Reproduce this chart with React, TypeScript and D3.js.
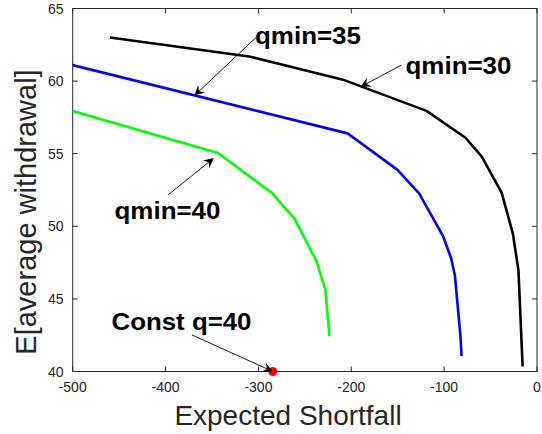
import React from "react";
import * as d3 from "d3";

const xTicks = [-500, -400, -300, -200, -100, 0];
const yTicks = [40, 45, 50, 55, 60, 65];

const qmin30: [number, number][] = [
  [-460, 63.0], [-310, 61.7], [-209, 60.1], [-119, 57.95], [-77, 56.1],
  [-59.5, 54.8], [-38, 52.3], [-26, 49.5], [-20, 47.0], [-15.5, 40.35],
];
const qmin35: [number, number][] = [
  [-500, 61.1], [-204, 56.4], [-150.5, 53.9], [-127, 52.27], [-101, 49.3],
  [-92.5, 47.8], [-88.5, 46.65], [-82.5, 42.5], [-81.2, 41.07],
];
const qmin40: [number, number][] = [
  [-500, 57.94], [-343.5, 55.05], [-285.5, 52.3], [-261.3, 50.55],
  [-237.5, 47.6], [-228, 45.66], [-223.5, 42.44],
];
const constPoint: [number, number] = [-284.5, 40];

const seriesList = [
  { name: "qmin=30", data: qmin30, color: "#000000" },
  { name: "qmin=35", data: qmin35, color: "#0000ff" },
  { name: "qmin=40", data: qmin40, color: "#00ff00" },
];

// annotation layout (text pixel position, arrow tail pixel, arrow head in data units)
const annotations = [
  { text: "qmin=35", tx: 255, ty: 43.5, len: 106, tail: [256, 37.5], head: [-369, 59.0] },
  { text: "qmin=30", tx: 405.5, ty: 74, len: 106, tail: [401.5, 65], head: [-190, 59.6] },
  { text: "qmin=40", tx: 114.5, ty: 219, len: 106, tail: [168, 195], head: [-348, 54.7] },
  { text: "Const q=40", tx: 111.5, ty: 330, len: 140, tail: [192, 335], head: [-284.5, 40] },
];

const W = 542;
const H = 434;
const left = 72.7;
const right = 537;
const top = 8.5;
const bottom = 371.5;
const axisColor = "#262626";

function Arrow({ x1, y1, x2, y2 }: { x1: number; y1: number; x2: number; y2: number }) {
  const dx = x2 - x1;
  const dy = y2 - y1;
  const L = Math.hypot(dx, dy);
  const ux = dx / L;
  const uy = dy / L;
  const px = -uy;
  const py = ux;
  const hl = 10;
  const hw = 5;
  const notch = 6.5;
  const bx = x2 - ux * hl;
  const by = y2 - uy * hl;
  const nx = x2 - ux * notch;
  const ny = y2 - uy * notch;
  const pts = [
    [x2, y2],
    [bx + px * hw, by + py * hw],
    [nx, ny],
    [bx - px * hw, by - py * hw],
  ];
  return (
    <g>
      <line x1={x1} y1={y1} x2={nx} y2={ny} stroke="#000" strokeWidth={0.9} />
      <polygon points={pts.map((p) => p.join(",")).join(" ")} fill="#000" />
    </g>
  );
}

export default function App() {
  const x = d3.scaleLinear().domain([-500, 0]).range([left, right]);
  const y = d3.scaleLinear().domain([40, 65]).range([bottom, top]);
  const line = d3
    .line<[number, number]>()
    .x((d) => x(d[0]))
    .y((d) => y(d[1]));
  const tickLen = 5;
  const font = "'Liberation Sans', Arial, Helvetica, sans-serif";

  return (
    <svg
      width={W}
      height={H}
      style={{ position: "absolute", left: 0, top: 0, background: "#fff" }}
      fontFamily={font}
    >
      <rect x={0} y={0} width={W} height={H} fill="#fff" />
      {/* box */}
      <rect
        x={left}
        y={top}
        width={right - left}
        height={bottom - top}
        fill="none"
        stroke={axisColor}
        strokeWidth={1}
      />
      {xTicks.map((t) => (
        <g key={"x" + t}>
          <line x1={x(t)} x2={x(t)} y1={bottom} y2={bottom - tickLen} stroke={axisColor} />
          <line x1={x(t)} x2={x(t)} y1={top} y2={top + tickLen} stroke={axisColor} />
          <text x={x(t)} y={392} textAnchor="middle" fontSize={14} fill={axisColor}>
            {t}
          </text>
        </g>
      ))}
      {yTicks.map((t) => (
        <g key={"y" + t}>
          <line x1={left} x2={left + tickLen} y1={y(t)} y2={y(t)} stroke={axisColor} />
          <line x1={right} x2={right - tickLen} y1={y(t)} y2={y(t)} stroke={axisColor} />
          <text
            x={63.5}
            y={y(t) + 5}
            textAnchor="end"
            fontSize={14}
            fill={axisColor}
          >
            {t}
          </text>
        </g>
      ))}
      <text x={288} y={425} textAnchor="middle" fontSize={28} fill={axisColor}>
        Expected Shortfall
      </text>
      <text
        transform={`translate(36,212) rotate(-90)`}
        textAnchor="middle"
        fontSize={29}
        fill={axisColor}
      >
        E[average withdrawal]
      </text>

      {seriesList.map((s) => (
        <path
          key={s.name}
          d={line(s.data) || ""}
          fill="none"
          stroke={s.color}
          strokeWidth={2.6}
          strokeLinejoin="round"
        />
      ))}

      <circle cx={x(constPoint[0])} cy={y(constPoint[1])} r={4.5} fill="#ff0000" />

      {annotations.map((a) => (
        <g key={a.text}>
          <Arrow x1={a.tail[0]} y1={a.tail[1]} x2={x(a.head[0])} y2={y(a.head[1])} />
          <text
            x={a.tx}
            y={a.ty}
            fontSize={23}
            fontWeight="bold"
            fill="#000"
            textLength={a.len}
            lengthAdjust="spacingAndGlyphs"
          >
            {a.text}
          </text>
        </g>
      ))}
    </svg>
  );
}
